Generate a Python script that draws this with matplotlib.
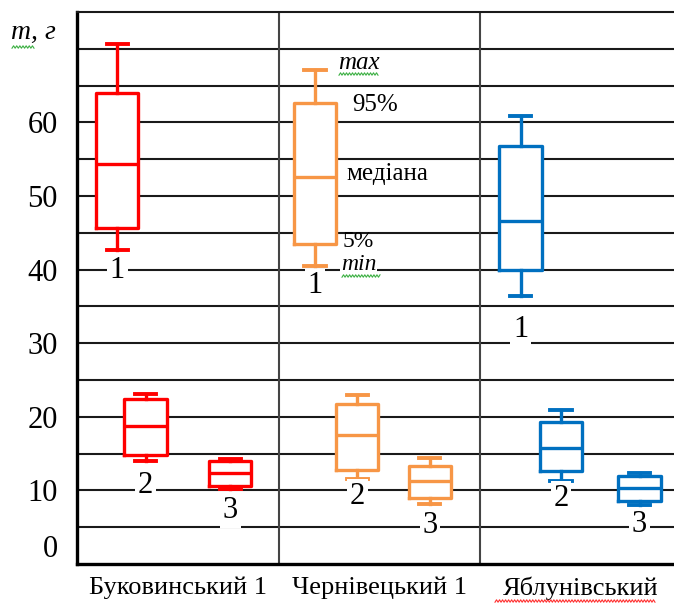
import matplotlib.pyplot as plt
import numpy as np

plt.rcParams['font.family'] = ['Liberation Serif', 'DejaVu Serif']

# сорти
varieties = ['Буковинський 1', 'Чернівецький 1', 'Яблунівський']
colors = ['#ff0000', '#f79646', '#0070c0']

# маса, г: min, 5%, медіана, 95%, max  (фракції 1, 2, 3 для кожного сорту)
w_min = [[42.7, 14.0, 10.2], [40.5, 11.5, 8.1], [36.4, 11.3, 8.0]]
w_p5 = [[45.6, 14.8, 10.6], [43.5, 12.8, 8.9], [39.9, 12.7, 8.6]]
w_med = [[54.3, 18.7, 12.4], [52.6, 17.5, 11.3], [46.6, 15.7, 10.3]]
w_p95 = [[64.0, 22.4, 14.0], [62.6, 21.8, 13.3], [56.8, 19.3, 11.9]]
w_max = [[70.6, 23.1, 14.3], [67.1, 23.0, 14.4], [60.8, 20.9, 12.3]]
fractions = ['1', '2', '3']

# розташування (частка ширини групи) та підписів фракцій
offsets = [[0.20, 0.34, 0.76], [0.18, 0.39, 0.75], [0.20, 0.40, 0.79]]
label_y = [[39.9, 10.6, 7.2], [37.8, 9.2, 5.2], [31.8, 8.9, 5.3]]

fig = plt.figure(figsize=(6.74, 6.03), dpi=100)
ax = fig.add_axes([0.1142, 0.0647, 0.8976, 0.9155])

for g in range(3):
    stats = []
    for k in range(3):
        stats.append(dict(whislo=w_min[g][k], q1=w_p5[g][k], med=w_med[g][k],
                          q3=w_p95[g][k], whishi=w_max[g][k], fliers=[]))
    pos = [g + o for o in offsets[g]]
    c = colors[g]
    ax.bxp(stats, positions=pos, widths=0.21, showfliers=False,
           boxprops=dict(color=c, linewidth=2.4),
           medianprops=dict(color=c, linewidth=2.4),
           whiskerprops=dict(color=c, linewidth=2.4),
           capprops=dict(color=c, linewidth=2.8),
           capwidths=0.105, zorder=3, manage_ticks=False)
    # білий фон коробок, щоб сітку не було видно
    for k in range(3):
        ax.fill_between([pos[k] - 0.105, pos[k] + 0.105], w_p5[g][k], w_p95[g][k],
                        color='white', zorder=2.5)
        ax.text(pos[k], label_y[g][k], fractions[k], ha='center', va='center',
                fontsize=22, zorder=4,
                bbox=dict(facecolor='white', edgecolor='none', pad=2))

# пояснення до першої коробки другого сорту
ann_x = 1.295
ax.text(ann_x, 68.1, 'max', style='italic', fontsize=18, va='center', ha='left', zorder=4)
ax.text(ann_x + 0.07, 62.3, '95%', fontsize=18, va='center', ha='left', zorder=4)
ax.text(ann_x + 0.04, 53.0, 'медіана', fontsize=18, va='center', ha='left', zorder=4)
ax.text(ann_x + 0.023, 43.8, '5%', fontsize=17, va='center', ha='left', zorder=5)
ax.text(ann_x + 0.015, 40.7, 'min', style='italic', fontsize=17, va='center', ha='left',
        zorder=4, bbox=dict(facecolor='white', edgecolor='none', pad=0.5))

# сітка
for yv in np.arange(5, 75, 5):
    ax.axhline(yv, color='#1a1a1a', linewidth=1.5, zorder=1)
for xv in [1, 2]:
    ax.axvline(xv, color='#444444', linewidth=1.5, zorder=1)

ax.set_xlim(0, 3)
ax.set_ylim(0, 75)
ax.set_yticks(np.arange(0, 70, 10))
ax.set_yticklabels([str(v) for v in range(0, 70, 10)], fontsize=22)
ax.get_yticklabels()[0].set_va('bottom')
ax.set_xticks([0.5, 1.5, 2.5])
ax.set_xticklabels(varieties, fontsize=19)
ax.tick_params(axis='both', length=0)
ax.tick_params(axis='y', pad=14)
ax.tick_params(axis='x', pad=9)

ax.spines['left'].set_linewidth(2.4)
ax.spines['bottom'].set_linewidth(2.4)
ax.spines['top'].set_linewidth(1.5)
ax.spines['top'].set_color('#1a1a1a')
ax.spines['right'].set_visible(False)

fig.text(0.017, 0.947, 'm, г', style='italic', fontsize=20, ha='left', va='center')


# хвилясті підкреслення перевірки правопису
def squiggle(x0, x1, y, color):
    xs = np.linspace(x0, x1, int((x1 - x0) / 1.5) + 1)
    ys = y + 1.2 * np.where(np.arange(len(xs)) % 2 == 0, 1, -1)
    fig.add_artist(plt.Line2D(xs / 674, 1 - ys / 603, color=color, linewidth=0.8))


squiggle(12, 34, 47, '#3cb043')
squiggle(339, 378, 74, '#3cb043')
squiggle(342, 380, 276, '#3cb043')
squiggle(495, 655, 601, '#ff3030')

fig.savefig('out.png', dpi=100)
